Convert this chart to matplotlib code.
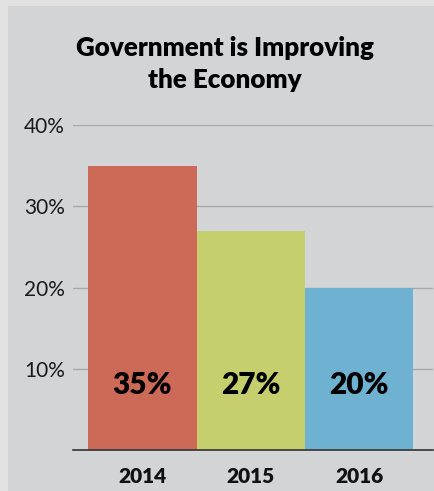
import numpy as np
import matplotlib.pyplot as plt
from matplotlib.patches import Rectangle

# datos
anios = ['2014', '2015', '2016']
valores = [35, 27, 20]
etiquetas = ['35%', '27%', '20%']
colores = ['#cc6a57', '#c5cf6e', '#6fb1d0']
ticks_y = [10, 20, 30, 40]

plt.rcParams['font.family'] = ['Lato', 'DejaVu Sans']

fig = plt.figure(figsize=(4.35, 4.91), dpi=100)
fig.patch.set_facecolor('#e2e2e2')

# panel interior
fig.patches.append(Rectangle((8 / 435, 0), 1, 1 - 6 / 491, transform=fig.transFigure,
                             facecolor='#d3d4d6', edgecolor='none', zorder=-1))

W, H = 435, 491
ax_left, ax_right = 73, 433
ax_bottom, ax_top = 450, 125
ax = fig.add_axes([ax_left / W, 1 - ax_bottom / H,
                   (ax_right - ax_left) / W, (ax_bottom - ax_top) / H])
ax.set_facecolor('none')

x = np.arange(len(anios))
ax.bar(x, valores, width=1.0, color=colores, zorder=2)

for xi, et in zip(x, etiquetas):
    ax.text(xi, 8, et, ha='center', va='center', fontsize=21.5,
            fontweight='heavy', color='black', zorder=3)

ax.set_xlim(-0.64, 2.68)
ax.set_ylim(0, 40)
ax.set_yticks(ticks_y)
ax.set_yticklabels([f'{t}%' for t in ticks_y], fontsize=15, color='#1a1a1a')
ax.set_xticks(x)
ax.set_xticklabels(anios, fontsize=15, fontweight='heavy', color='#111111')
ax.tick_params(axis='y', length=0, pad=6)
ax.tick_params(axis='x', length=0, pad=12)
ax.yaxis.grid(True, color='#a9a9ab', linewidth=1.0, zorder=1)
ax.set_axisbelow(True)
for s in ['top', 'right', 'left']:
    ax.spines[s].set_visible(False)
ax.spines['bottom'].set_color('#333333')
ax.spines['bottom'].set_linewidth(1.2)
ax.spines['bottom'].set_zorder(4)

fig.text(225 / W, 1 - 64 / H, 'Government is Improving\nthe Economy', ha='center',
         va='center', fontsize=18.7, fontweight='heavy', color='black', linespacing=1.4)

fig.savefig('out.png', dpi=100, facecolor=fig.get_facecolor())
